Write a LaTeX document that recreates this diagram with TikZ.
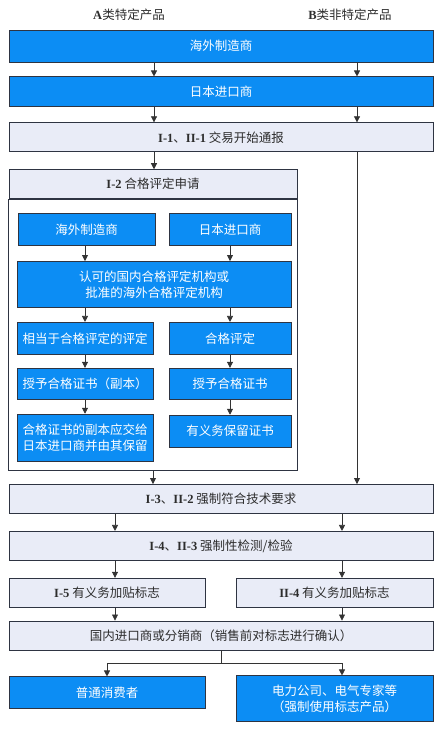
\documentclass[tikz,border=0pt]{standalone}
\usepackage{fontspec}
\setmainfont{Liberation Serif}
\newfontfamily\cjk{Noto Sans CJK SC}
\usetikzlibrary{arrows.meta, positioning}
\definecolor{flowBlue}{HTML}{0C8DF4}
\definecolor{stageGrey}{HTML}{E9ECF7}
\definecolor{edgeDark}{HTML}{2E3442}
\definecolor{lineGrey}{HTML}{333333}
\definecolor{textDark}{HTML}{2D2D2D}
\newcommand{\stepno}[1]{{\rmfamily\bfseries #1}}

\begin{document}
\begin{tikzpicture}[x=1pt, y=-1pt,
    actor/.style={rectangle, draw=edgeDark, line width=0.9pt, fill=flowBlue,
                  inner sep=2pt, align=center,
                  font=\fontsize{12.5}{16}\selectfont\cjk\color{white}},
    stage/.style={rectangle, draw=edgeDark, line width=0.9pt, fill=stageGrey,
                  minimum height=29pt, inner sep=2pt,
                  font=\fontsize{12.5}{15}\selectfont\cjk\color{textDark}},
    heading/.style={font=\fontsize{12.5}{15}\selectfont\cjk\color{textDark}},
    flow/.style={-{Triangle[length=6pt, width=6pt]}, lineGrey, line width=0.7pt},
  ]
    \useasboundingbox (0,0) rectangle (440,730);

    \node[heading] (catA) at (129,15) {\stepno{A}类特定产品};
    \node[heading] (catB) at (350,15) {\stepno{B}类非特定产品};

    \node[actor, minimum width=424pt, minimum height=32pt] (maker) at (221,46) {海外制造商};
    \node[actor, minimum width=424pt, minimum height=30pt, below=14pt of maker] (importer) {日本进口商};
    \node[stage, minimum width=424pt, below=15pt of importer] (notice)
      {\stepno{I-1}、\stepno{II-1} 交易开始通报};

    % I-2 block
    \node[stage, minimum width=288pt, below=17pt of notice.south west, anchor=north west] (apply)
      {\stepno{I-2} 合格评定申请};
    \node[actor, minimum width=137pt, minimum height=32pt, anchor=north west] (abroad)
      at ([xshift=9pt, yshift=-14pt]apply.south west) {海外制造商};
    \node[actor, minimum width=122pt, minimum height=32pt, anchor=north east] (local)
      at ([xshift=-6pt, yshift=-14pt]apply.south east) {日本进口商};
    \node[actor, minimum width=274pt, minimum height=46pt, anchor=north east] (body)
      at ([yshift=-15pt]local.south east) {认可的国内合格评定机构或\\批准的海外合格评定机构};

    \node[actor, minimum width=136pt, minimum height=32pt, anchor=north west] (equiv)
      at ([yshift=-14pt]body.south west) {相当于合格评定的评定};
    \node[actor, minimum width=136pt, minimum height=31pt, below=13pt of equiv] (copy) {授予合格证书（副本）};
    \node[actor, minimum width=136pt, minimum height=47pt, below=14pt of copy] (hand)
      {合格证书的副本应交给\\日本进口商并由其保留};

    \node[actor, minimum width=122pt, minimum height=32pt, anchor=north east] (assess)
      at ([yshift=-14pt]body.south east) {合格评定};
    \node[actor, minimum width=122pt, minimum height=31pt, below=13pt of assess] (grant) {授予合格证书};
    \node[actor, minimum width=122pt, minimum height=32pt, below=15pt of grant] (keep) {有义务保留证书};

    \path (apply.south east |- hand.south) coordinate (handLevel);
    \coordinate[below=9pt of handLevel] (applyEnd);
    \draw[edgeDark, line width=0.9pt] (apply.south west) rectangle (applyEnd);

    % common steps
    \node[stage, minimum width=424pt] (check) at (221,499)
      {\stepno{I-3}、\stepno{II-2} 强制符合技术要求};
    \node[stage, minimum width=424pt, below=17pt of check] (test)
      {\stepno{I-4}、\stepno{II-3} 强制性检测/检验};
    \node[stage, minimum width=196pt, anchor=north west] (markA)
      at ([yshift=-17pt]test.south west) {\stepno{I-5} 有义务加贴标志};
    \node[stage, minimum width=197pt, anchor=north east] (markB)
      at ([yshift=-17pt]test.south east) {\stepno{II-4} 有义务加贴标志};
    \node[stage, minimum width=424pt] (dist) at (221,635.5)
      {国内进口商或分销商（销售前对标志进行确认）};
    \node[actor, minimum width=196pt, minimum height=32pt, anchor=north west] (consumer)
      at ([yshift=-26pt]dist.south west) {普通消费者};
    \node[actor, minimum width=197pt, minimum height=46pt, anchor=north east] (power)
      at ([yshift=-25pt]dist.south east) {电力公司、电气专家等\\（强制使用标志产品）};

    \coordinate (colA) at (154,0);
    \coordinate (colB) at (357,0);
    \coordinate (colC) at (115,0);
    \coordinate (colD) at (342,0);

    \foreach \col in {colA, colB} {
      \draw[flow] (maker.south -| \col) -- (importer.north -| \col);
      \draw[flow] (importer.south -| \col) -- (notice.north -| \col);
    }
    \draw[flow] (notice.south -| colA) -- (apply.north -| colA);
    \draw[flow] (notice.south -| colB) -- (check.north -| colB);

    \draw[flow] (abroad.south -| equiv) -- (body.north -| equiv);
    \draw[flow] (local) -- (body.north -| local);
    \draw[flow] (body.south -| equiv) -- (equiv);
    \draw[flow] (body.south -| assess) -- (assess);
    \draw[flow] (equiv) -- (copy);
    \draw[flow] (copy) -- (hand);
    \draw[flow] (assess) -- (grant);
    \draw[flow] (grant) -- (keep);

    \draw[flow] (apply.south |- applyEnd) -- (check.north -| apply.south);

    \foreach \col in {colC, colD} {
      \draw[flow] (check.south -| \col) -- (test.north -| \col);
      \draw[flow] (test.south -| \col) -- (markA.north -| \col);
    }
    \draw[flow] (markA.south -| colC) -- (dist.north -| colC);
    \draw[flow] (markB.south -| colD) -- (dist.north -| colD);

    \coordinate[below=13pt of dist] (split);
    \draw[lineGrey, line width=0.7pt] (dist) -- (split);
    \draw[flow] (split) -| (consumer.north);
    \draw[flow] (split) -| (power.north -| colD);
  \end{tikzpicture}
\end{document}
